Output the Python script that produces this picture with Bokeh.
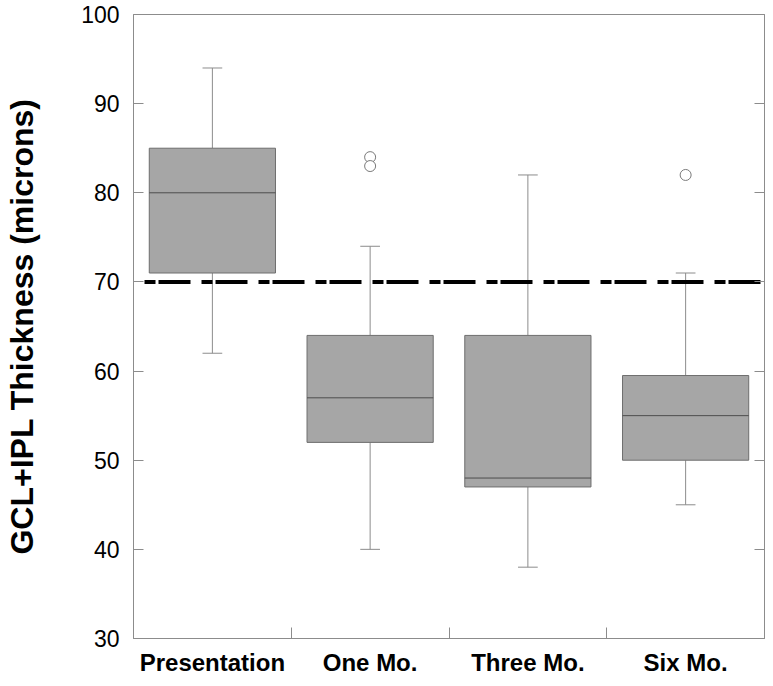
from bokeh.plotting import figure
from bokeh.models import (Range1d, LinearAxis, FixedTicker, ColumnDataSource)
from bokeh.embed import file_html
from bokeh.resources import INLINE

# ---- data ----
categories = ["Presentation", "One Mo.", "Three Mo.", "Six Mo."]
lower_whisker = [62, 40, 38, 45]
q1 = [71, 52, 47, 50]
median = [80, 57, 48, 55]
q3 = [85, 64, 64, 59.5]
upper_whisker = [94, 74, 82, 71]
outlier_cat = ["One Mo.", "One Mo.", "Six Mo."]
outlier_val = [84, 83, 82]
reference_value = 70
y_ticks = [30, 40, 50, 60, 70, 80, 90, 100]

# ---- styling ----
FONT = "Liberation Sans"
GRAY = "#8c8c8c"
BOX_FILL = "#a6a6a6"
BOX_LINE = "#6e6e6e"
MEDIAN = "#4d4d4d"
BOX_W = 0.8
CAP_W = 0.125

pos = {c: i + 1 for i, c in enumerate(categories)}
xs = [pos[c] for c in categories]

p = figure(width=765, height=678, output_backend="svg", toolbar_location=None,
           x_range=Range1d(0.5, len(categories) + 0.5),
           y_range=Range1d(min(y_ticks), max(y_ticks)),
           min_border_left=133, min_border_right=1, min_border_top=14,
           min_border_bottom=36, x_axis_location=None, y_axis_location=None)
p.grid.visible = False
p.outline_line_color = GRAY
p.outline_line_width = 1
p.background_fill_color = "white"
p.border_fill_color = "white"

# bottom axis: labels at category centres, ticks at category boundaries
xb = LinearAxis(ticker=FixedTicker(ticks=xs,
                                   minor_ticks=[x + 0.5 for x in xs[:-1]]))
xb.major_label_overrides = {x: c for x, c in zip(xs, categories)}
xb.major_tick_in = 0
xb.major_tick_out = 0
xb.minor_tick_in = 11
xb.minor_tick_out = 0
xb.minor_tick_line_color = GRAY
xb.axis_line_color = GRAY
xb.major_label_text_font = FONT
xb.major_label_text_font_style = "bold"
xb.major_label_text_font_size = "24px"
xb.major_label_text_color = "black"
xb.major_label_standoff = 10
p.add_layout(xb, "below")

# left axis
yl = LinearAxis(ticker=FixedTicker(ticks=y_ticks, minor_ticks=[]))
yl.major_tick_in = 10
yl.major_tick_out = 0
yl.major_tick_line_color = GRAY
yl.axis_line_color = GRAY
yl.major_label_text_font = FONT
yl.major_label_text_font_size = "23px"
yl.major_label_text_color = "black"
yl.major_label_standoff = 14
yl.axis_label = "GCL+IPL Thickness (microns)"
yl.axis_label_text_font = FONT
yl.axis_label_text_font_style = "bold"
yl.axis_label_text_font_size = "32px"
yl.axis_label_text_color = "black"
yl.axis_label_standoff = 38
p.add_layout(yl, "left")

# right axis: inward ticks only, no labels
yr = LinearAxis(ticker=FixedTicker(ticks=y_ticks, minor_ticks=[]))
yr.major_tick_in = 10
yr.major_tick_out = 0
yr.major_tick_line_color = GRAY
yr.axis_line_color = GRAY
yr.major_label_overrides = {t: "" for t in y_ticks}
yr.major_label_standoff = 0
p.add_layout(yr, "right")

src = ColumnDataSource(dict(
    x=xs, lo=lower_whisker, q1=q1, med=median, q3=q3, hi=upper_whisker,
    xl=[x - BOX_W / 2 for x in xs], xr=[x + BOX_W / 2 for x in xs],
    cl=[x - CAP_W / 2 for x in xs], cr=[x + CAP_W / 2 for x in xs],
))

# whiskers
p.segment(x0="x", y0="q3", x1="x", y1="hi", source=src, line_color=GRAY, line_width=1)
p.segment(x0="x", y0="q1", x1="x", y1="lo", source=src, line_color=GRAY, line_width=1)
p.segment(x0="cl", y0="hi", x1="cr", y1="hi", source=src, line_color=GRAY, line_width=1)
p.segment(x0="cl", y0="lo", x1="cr", y1="lo", source=src, line_color=GRAY, line_width=1)

# boxes
p.vbar(x="x", width=BOX_W, bottom="q1", top="q3", source=src,
       fill_color=BOX_FILL, line_color=BOX_LINE, line_width=1)
p.segment(x0="xl", y0="med", x1="xr", y1="med", source=src,
          line_color=MEDIAN, line_width=1)

# outliers
p.scatter(x=[pos[c] for c in outlier_cat], y=outlier_val, marker="circle",
          size=11, fill_color="white", line_color="#7a7a7a", line_width=1)

# reference line
p.line(x=[0.5, len(categories) + 0.5], y=[reference_value, reference_value],
       line_color="black", line_width=4, line_dash="11 3 32 11",
       line_dash_offset=46)

open("out.html", "w").write(file_html(p, INLINE))
